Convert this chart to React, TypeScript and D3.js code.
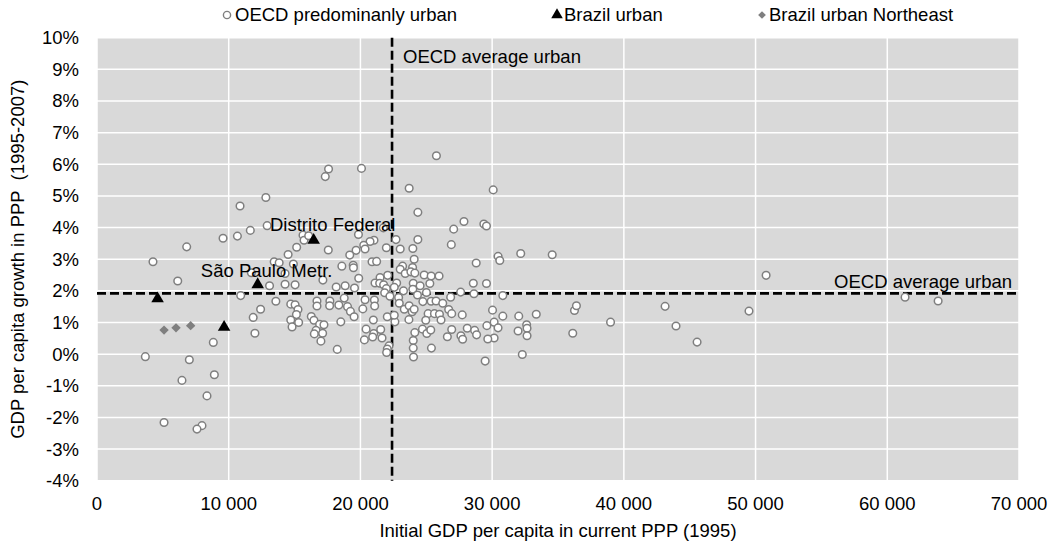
import React from "react";
import * as d3 from "d3";

// Initial GDP per capita (current PPP, 1995) and annual growth (%, 1995-2007)
const oecdUrban: [number, number][] = [
  [25770, 6.27], [17580, 5.85], [17330, 5.61], [20080, 5.87], [23700, 5.24], [30080, 5.19],
  [12820, 4.95], [24360, 4.48], [11640, 3.91], [12920, 4.06], [27860, 4.19], [27080, 3.95],
  [29370, 4.11], [29570, 4.05], [21740, 3.99], [19850, 3.78], [15640, 3.76], [15720, 3.6],
  [16070, 3.74], [22700, 3.62], [24360, 3.62], [21030, 3.6], [20730, 3.56], [20250, 3.44],
  [20350, 3.32], [26900, 3.46], [21970, 3.36], [23020, 3.32], [23980, 3.34], [17560, 3.29],
  [15160, 3.38], [19670, 3.28], [19190, 3.13], [14510, 3.15], [24080, 3.0], [30450, 3.09],
  [30580, 2.96], [32170, 3.18], [34560, 3.14], [28790, 2.88], [20880, 2.92], [21230, 2.93],
  [19450, 2.81], [19470, 2.73], [18590, 2.78], [14910, 2.85], [13450, 2.92], [13830, 2.89],
  [23200, 2.78], [23960, 2.74], [23020, 2.68], [23400, 2.55], [23830, 2.6], [24130, 2.56],
  [24840, 2.5], [25370, 2.47], [25970, 2.47], [22070, 2.49], [21490, 2.42], [19870, 2.4],
  [17150, 2.34], [14280, 2.21], [15040, 2.19], [13100, 2.16], [21110, 2.25], [21460, 2.24],
  [21760, 2.19], [22750, 2.25], [24010, 2.24], [24530, 2.16], [25270, 2.23], [28570, 2.24],
  [29570, 2.23], [18840, 2.16], [18160, 2.12], [19550, 2.09], [21970, 2.07], [22570, 2.11],
  [23270, 2.0], [23980, 2.05], [24330, 1.87], [25010, 1.95], [27610, 1.96], [28620, 1.91],
  [30810, 1.85], [26850, 1.8], [21840, 1.94], [22240, 1.83], [22900, 1.79], [13580, 1.67],
  [12420, 1.42], [11860, 1.16], [11990, 0.66], [14710, 1.58], [15040, 1.56], [15260, 1.41],
  [15140, 1.25], [14710, 1.08], [14810, 0.86], [15310, 1.0], [16700, 1.68], [16700, 1.52],
  [17680, 1.68], [17660, 1.53], [18770, 1.77], [18360, 1.55], [19020, 1.5], [19240, 1.35],
  [19520, 1.18], [18510, 1.02], [16270, 1.19], [16470, 1.07], [16900, 0.94], [17230, 0.93],
  [16630, 0.75], [16500, 0.64], [17130, 0.66], [17000, 0.41], [18240, 0.15], [20180, 1.43],
  [20350, 1.72], [21060, 1.71], [21080, 1.52], [20980, 1.08], [20430, 0.79], [20300, 0.45],
  [21010, 0.65], [20930, 0.54], [21540, 0.78], [21640, 0.51], [22040, 1.18], [22620, 1.02],
  [22570, 1.23], [22170, 0.26], [22040, 0.16], [21990, 0.05], [22950, 1.61], [23330, 1.42],
  [23700, 1.53], [23930, 1.34], [24080, 1.42], [24740, 1.66], [25370, 1.67], [25740, 1.68],
  [26250, 1.61], [26700, 1.41], [26930, 1.28], [25140, 1.28], [25620, 1.28], [26000, 1.26],
  [24960, 1.07], [26120, 1.08], [23680, 1.09], [27730, 1.24], [30030, 1.39], [30810, 1.2],
  [32020, 1.2], [33350, 1.26], [36250, 1.38], [36400, 1.53], [38990, 1.01], [36120, 0.66],
  [32620, 0.93], [32650, 0.82], [32650, 0.58], [31970, 0.73], [32290, -0.01], [29470, -0.22],
  [30150, 1.01], [29600, 0.9], [30450, 0.83], [30150, 0.51], [29670, 0.48], [28110, 0.82],
  [28670, 0.75], [28820, 0.61], [27630, 0.58], [27760, 0.47], [26600, 0.55], [26930, 0.78],
  [24710, 0.79], [24130, 0.68], [25040, 0.65], [25340, 0.76], [24010, 0.43], [24010, 0.19],
  [24030, -0.09], [25390, 0.19],
  [10860, 4.68], [10660, 3.73], [9570, 3.66], [6810, 3.39], [4250, 2.92], [6130, 2.31],
  [10910, 1.85], [11720, 2.57], [14280, 2.55], [8830, 0.37], [3670, -0.08], [7010, -0.18],
  [8910, -0.65], [6450, -0.83], [8350, -1.32], [5090, -2.16], [7970, -2.26], [7590, -2.37],
  [43130, 1.51], [43960, 0.89], [45560, 0.38], [49500, 1.36], [50800, 2.49], [61350, 1.8],
  [63860, 1.68],
];

const brazilUrban: [number, number][] = [
  [4600, 1.75], [9650, 0.85], [12200, 2.2], [16450, 3.6],
];

const brazilNortheast: [number, number][] = [
  [5090, 0.76], [6000, 0.83], [7110, 0.9],
];

// Named Brazilian regions, tied to points of brazilUrban by index
const regionLabels = [
  { index: 2, text: "São Paulo Metr.", dx: 9, dy: -8 },
  { index: 3, text: "Distrito Federal", dx: 19, dy: -9 },
];

const oecdAverageGdp = 22400;
const oecdAverageGrowth = 1.92;

const xTicks = [0, 10000, 20000, 30000, 40000, 50000, 60000, 70000];
const yTicks = [10, 9, 8, 7, 6, 5, 4, 3, 2, 1, 0, -1, -2, -3, -4];

const legendItems = ["OECD predominanly urban", "Brazil urban", "Brazil urban Northeast"];

const FONT = "'Liberation Sans', Arial, sans-serif";
const FS = 18.5;

export default function App() {
  const W = 1052;
  const H = 550;
  const left = 97;
  const right = 1019;
  const top = 37.7;
  const bottom = 480.7;

  const x = d3.scaleLinear().domain([0, 70000]).range([left, right]);
  const y = d3.scaleLinear().domain([-4, 10]).range([bottom, top]);

  const fmtX = (v: number) => d3.format(",")(v).replace(/,/g, " ");

  const tri = d3.symbol().type(d3.symbolTriangle).size(68)()!;
  const triLegend = d3.symbol().type(d3.symbolTriangle).size(58)()!;
  const diamond = d3.symbol().type(d3.symbolSquare).size(44)()!;
  const diamondLegend = d3.symbol().type(d3.symbolSquare).size(30)()!;

  const gx = x(oecdAverageGdp);
  const gy = y(oecdAverageGrowth);

  return (
    <svg
      width={W}
      height={H}
      style={{ position: "absolute", left: 0, top: 0, background: "#fff" }}
      fontFamily={FONT}
    >
      {/* plot area */}
      <rect x={left} y={top} width={right - left} height={bottom - top} fill="#d9d9d9" />
      {yTicks.map((t) => (
        <line key={"gy" + t} x1={left} x2={right} y1={y(t)} y2={y(t)} stroke="#fff" strokeWidth={1.5} />
      ))}
      {xTicks.map((t) => (
        <line key={"gx" + t} x1={x(t)} x2={x(t)} y1={top} y2={bottom} stroke="#fff" strokeWidth={1.5} />
      ))}

      {/* axis labels */}
      {yTicks.map((t) => (
        <text key={"ly" + t} x={79} y={y(t)} dy="0.35em" textAnchor="end" fontSize={FS} fill="#000">
          {t + "%"}
        </text>
      ))}
      {xTicks.map((t) => (
        <text key={"lx" + t} x={x(t)} y={504} dy="0.35em" textAnchor="middle" fontSize={FS} fill="#000">
          {fmtX(t)}
        </text>
      ))}
      <text x={(left + right) / 2} y={531} dy="0.35em" textAnchor="middle" fontSize={FS} fill="#000">
        Initial GDP per capita in current PPP (1995)
      </text>
      <text
        transform={`translate(18,${(top + bottom) / 2}) rotate(-90)`}
        dy="0.35em"
        textAnchor="middle"
        fontSize={FS}
        fill="#000"
        style={{ whiteSpace: "pre" }}
      >
        {"GDP per capita growth in PPP  (1995-2007)"}
      </text>

      {/* OECD averages */}
      <line x1={gx} x2={gx} y1={top} y2={bottom} stroke="#000" strokeWidth={2.6} strokeDasharray="9,4" />
      <line x1={left} x2={right} y1={gy} y2={gy} stroke="#000" strokeWidth={2.6} strokeDasharray="9,4" />
      <text x={gx + 11} y={63} fontSize={FS} fill="#000">OECD average urban</text>
      <text x={1012} y={288} textAnchor="end" fontSize={FS} fill="#000">OECD average urban</text>

      {/* OECD predominantly urban regions */}
      {oecdUrban.map(([a, b], i) => (
        <circle key={"o" + i} cx={x(a)} cy={y(b)} r={3.8} fill="#fff" stroke="#7f7f7f" strokeWidth={1.5} />
      ))}

      {/* Brazil urban Northeast */}
      {brazilNortheast.map(([a, b], i) => (
        <path key={"n" + i} d={diamond} transform={`translate(${x(a)},${y(b)}) rotate(45)`} fill="#7f7f7f" />
      ))}

      {/* Brazil urban */}
      {brazilUrban.map(([a, b], i) => (
        <path key={"b" + i} d={tri} transform={`translate(${x(a)},${y(b)})`} fill="#000" />
      ))}
      {regionLabels.map((l) => {
        const [a, b] = brazilUrban[l.index];
        return (
          <text key={l.text} x={x(a) + l.dx} y={y(b) + l.dy} textAnchor="middle" fontSize={FS} fill="#000">
            {l.text}
          </text>
        );
      })}

      {/* legend */}
      <g fontSize={FS} fill="#000">
        <circle cx={227} cy={15} r={3.6} fill="#fff" stroke="#7f7f7f" strokeWidth={1.4} />
        <text x={235} y={15} dy="0.35em">{legendItems[0]}</text>
        <path d={triLegend} transform="translate(557,15)" fill="#000" />
        <text x={564} y={15} dy="0.35em">{legendItems[1]}</text>
        <path d={diamondLegend} transform="translate(762,15) rotate(45)" fill="#7f7f7f" />
        <text x={769} y={15} dy="0.35em">{legendItems[2]}</text>
      </g>
    </svg>
  );
}
